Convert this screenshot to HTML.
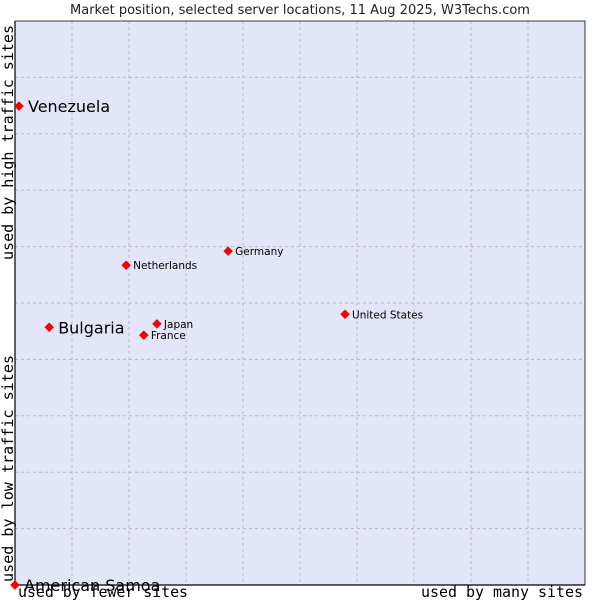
<!DOCTYPE html>
<html><head><meta charset="utf-8"><style>
body{margin:0;background:#fff;width:600px;height:600px;overflow:hidden}
svg text{font-family:"DejaVu Sans","Liberation Sans",sans-serif}
svg text.mono{font-family:"DejaVu Sans Mono","Liberation Mono",monospace}
</style></head><body>
<svg id="chart" width="600" height="600">
<text x="300" y="14" text-anchor="middle" font-size="13" fill="#222">Market position, selected server locations, 11 Aug 2025, W3Techs.com</text>
<rect x="15" y="21" width="570" height="564" fill="#e3e5f8"/>
<g id="grid"></g>
<path d="M15 21V585H585" fill="none" stroke="#000" stroke-width="1.2"/>
<path d="M15 21H585V585" fill="none" stroke="#000" stroke-width="0.8"/>
<g id="points"></g>
<text class="mono" x="18" y="597" font-size="15" textLength="170" lengthAdjust="spacingAndGlyphs" fill="#000">used by fewer sites</text>
<text class="mono" x="421" y="597" font-size="15" textLength="162" lengthAdjust="spacingAndGlyphs" fill="#000">used by many sites</text>
<text class="mono" transform="translate(13,582) rotate(-90)" font-size="15" textLength="227" lengthAdjust="spacingAndGlyphs" fill="#000">used by low traffic sites</text>
<text class="mono" transform="translate(13,260) rotate(-90)" font-size="15" textLength="235" lengthAdjust="spacingAndGlyphs" fill="#000">used by high traffic sites</text>
</svg>
<script>
const names=["Venezuela","Bulgaria","American Samoa","Netherlands","Germany","Japan","France","United States"];
const xs=[0.07,0.6,0,1.95,3.74,2.49,2.26,5.79];
const ys=[8.49,4.57,0,5.67,5.92,4.63,4.43,4.80];
const big=[true,true,true,false,false,false,false,false];
const NS="http://www.w3.org/2000/svg";
const X=v=>15+v*57, Y=v=>585-v*56.4;
const grid=document.getElementById('grid');
for(let i=1;i<10;i++){
 const l=document.createElementNS(NS,'line');
 l.setAttribute('x1',X(i));l.setAttribute('x2',X(i));l.setAttribute('y1',21);l.setAttribute('y2',585);
 l.setAttribute('stroke','#bbb');l.setAttribute('stroke-dasharray','3,3');
 
 
 grid.appendChild(l);
 const h=document.createElementNS(NS,'line');
 h.setAttribute('y1',Y(i));h.setAttribute('y2',Y(i));h.setAttribute('x1',15);h.setAttribute('x2',585);
 h.setAttribute('stroke','#bbb');h.setAttribute('stroke-dasharray','3,3');
 
 
 grid.appendChild(h);
}
const pts=document.getElementById('points');
names.forEach((n,i)=>{
 const cx=X(xs[i]),cy=Y(ys[i]);
 const c=document.createElementNS(NS,'path');
 c.setAttribute('d',`M${cx-4.5} ${cy}L${cx} ${cy-4.5}L${cx+4.5} ${cy}L${cx} ${cy+4.5}Z`);
 c.setAttribute('fill','#f00');c.setAttribute('stroke','#c00');c.setAttribute('stroke-width','0.5');
 
 
 pts.appendChild(c);
 const t=document.createElementNS(NS,'text');
 t.setAttribute('x',cx+(big[i]?9:7));t.setAttribute('y',cy+(big[i]?6:4));
 t.setAttribute('font-size',big[i]?16:10.5);t.setAttribute('fill','#000');
 t.textContent=n;
 
 
 pts.appendChild(t);
});
</script>
</body></html>
